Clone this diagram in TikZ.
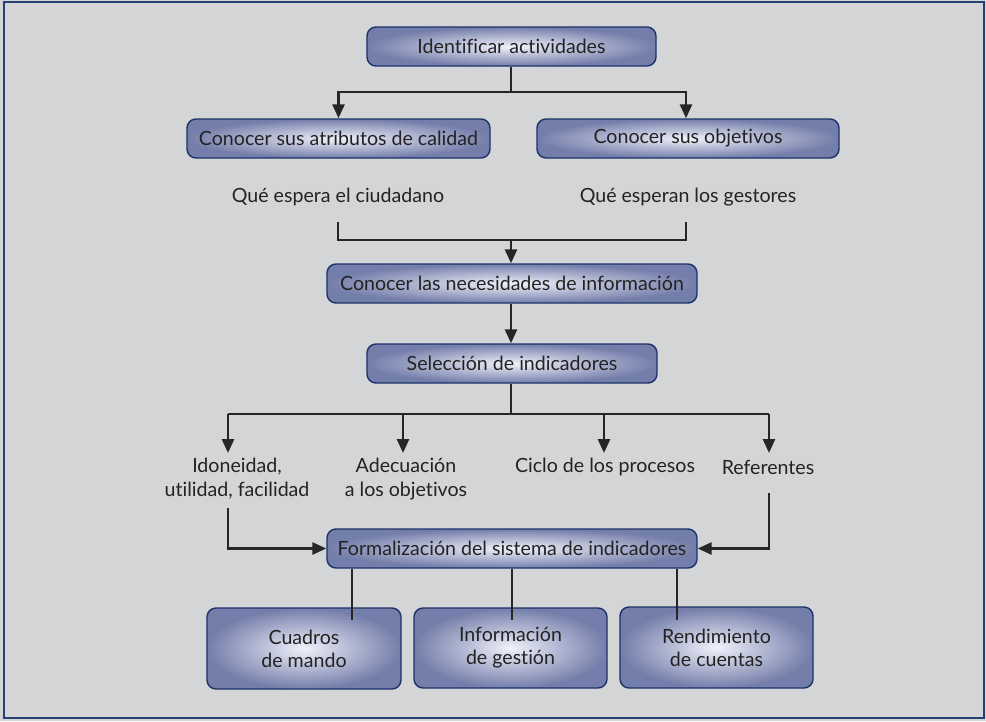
\documentclass[tikz,border=0pt]{standalone}
\usepackage{fontspec}
\setmainfont{Lato}[Ligatures={NoCommon}]
\usetikzlibrary{arrows.meta}
\definecolor{pagebg}{RGB}{212,213,215}
\definecolor{framecol}{RGB}{40,62,120}
\definecolor{boxedge}{RGB}{28,50,105}
\definecolor{boxout}{RGB}{116,126,170}
\definecolor{boxin}{RGB}{240,241,250}
\definecolor{txt}{RGB}{35,35,35}
\tikzset{
  box/.style={rounded corners=9pt, draw=boxedge, line width=1.4pt,
    inner color=boxin, outer color=boxout, text=txt, align=center,
    inner sep=0pt, font=\fontsize{19.6}{23}\selectfont},
  plain/.style={text=txt, align=center, inner sep=0pt,
    font=\fontsize{19.6}{24}\selectfont},
  link/.style={draw=black!85, line width=2.6pt},
  arr/.style={link, -{Triangle[length=14pt,width=12pt]}},
}
\begin{document}
\begin{tikzpicture}[x=1pt,y=-1pt]
% page frame
\fill[pagebg] (0,0) rectangle (986,721);
\draw[framecol, line width=2.6pt] (4,2) rectangle (984,718);
\useasboundingbox (0,0) rectangle (986,721);

% boxes
\node[box, minimum width=289pt, minimum height=39pt] (ident) at (511.5,46.5) {Identificar actividades};
\node[box, minimum width=303pt, minimum height=39pt] (atrib) at (338.5,138.5) {Conocer sus atributos de calidad};
\node[box, minimum width=302pt, minimum height=39pt] (objet) at (688,138.5) {Conocer sus objetivos};
\node[plain] (ciud) at (338,197) {Qué espera el ciudadano};
\node[plain] (gest) at (688,197) {Qué esperan los gestores};
\node[box, minimum width=370pt, minimum height=39pt] (necid) at (512,283.5) {Conocer las necesidades de información};
\node[box, minimum width=290pt, minimum height=39pt] (selec) at (512,363.5) {Selección de indicadores};

\node[plain] (idon) at (237,479) {Idoneidad,\\utilidad, facilidad};
\node[plain] (adec) at (406,479) {Adecuación\\a los objetivos};
\node[plain] (ciclo) at (605,467) {Ciclo de los procesos};
\node[plain] (refer) at (768,467) {Referentes};

\node[box, minimum width=370pt, minimum height=39pt] (formal) at (512,548.5) {Formalización del sistema de indicadores};

\node[box, minimum width=194pt, minimum height=81pt] (cuad) at (304,648.5) {Cuadros\\de mando};
\node[box, minimum width=193pt, minimum height=80pt] (infor) at (510.5,648) {Información\\de gestión};
\node[box, minimum width=193pt, minimum height=81pt] (rendi) at (716.5,647.5) {Rendimiento\\de cuentas};

% routing points
\coordinate (j1) at (511,92);
\coordinate (j2) at (511,240);
\coordinate (j3) at (511,414);
\coordinate (objx) at (686,0);
\coordinate (m1) at (338,222);
\coordinate (m2) at (686,222);
\coordinate (f1) at (228,414);
\coordinate (f2) at (403,414);
\coordinate (f3) at (604,414);
\coordinate (f4) at (769,414);
\coordinate (g1) at (228,453);
\coordinate (g2) at (403,453);
\coordinate (g3) at (604,453);
\coordinate (g4) at (769,453);
\coordinate (s1) at (228,508);
\coordinate (s4) at (769,493);
\coordinate (d1) at (352,620);
\coordinate (d2) at (512,620);
\coordinate (d3) at (677,620);

% top split
\draw[link] (ident.south -| j1) -- (j1);
\draw[arr] (j1) -| (atrib.north);
\draw[arr] (j1) -| (objet.north -| objx);

% merge into information needs
\draw[link] (m1) |- (j2);
\draw[link] (m2) |- (j2);
\draw[arr] (j2) -- (necid.north -| j2);

\draw[arr] (necid.south -| j2) -- (selec.north -| j2);

% fan out to the criteria
\draw[link] (selec.south -| j3) -- (j3);
\draw[link] (f1) -- (f4);
\draw[arr] (f1) -- (g1);
\draw[arr] (f2) -- (g2);
\draw[arr] (f3) -- (g3);
\draw[arr] (f4) -- (g4);

% criteria into the formal system
\draw[arr] (s1) |- (formal.west);
\draw[arr] (s4) |- (formal.east);

% formal system down to its outputs
\draw[link] (formal.south -| d1) -- (d1);
\draw[link] (formal.south -| d2) -- (d2);
\draw[link] (formal.south -| d3) -- (d3);
\end{tikzpicture}
\end{document}
